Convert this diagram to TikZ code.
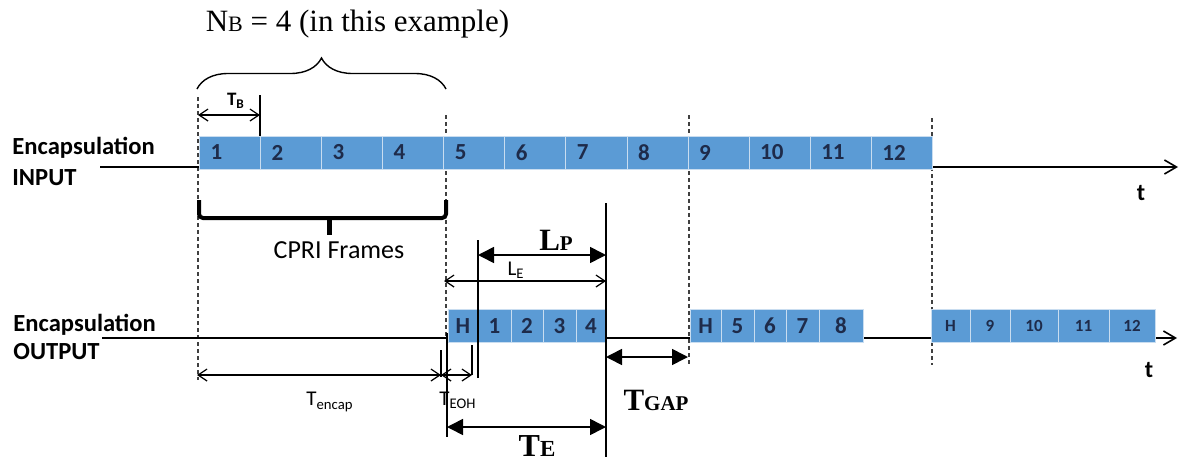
\documentclass[tikz,border=0pt]{standalone}
\usepackage{fontspec}
\setmainfont{Liberation Serif}
\setsansfont{Carlito}
\usetikzlibrary{arrows.meta,decorations.pathreplacing}

\definecolor{frameblue}{HTML}{5B9BD5}
\definecolor{framesep}{HTML}{C9DDF0}
\definecolor{framenum}{HTML}{1E2B4A}
\definecolor{guidegray}{HTML}{404040}

\newcommand{\fsz}[1]{\fontsize{#1}{#1}\selectfont}

\begin{document}
\begin{tikzpicture}[x=0.5pt,y=-0.5pt,
		axis/.style={line width=0.8pt,-{Straight Barb[length=6pt,width=7pt]}},
		guide/.style={guidegray,line width=0.8pt,dash pattern=on 2pt off 1.5pt},
		dim/.style={line width=0.6pt,{Straight Barb[length=4.5pt,width=6pt]}-{Straight Barb[length=4.5pt,width=6pt]}},
		bigdim/.style={line width=0.8pt,{Triangle[length=8pt,width=8pt]}-{Triangle[length=8pt,width=8pt]}},
		tick/.style={line width=0.7pt},
		frame/.style={fill=frameblue,draw=framesep,line width=0.5pt,minimum height=16.5pt,inner sep=0pt,font=\sffamily\bfseries\fsz{11.5},text=framenum},
		inframe/.style={frame,anchor=west,text width=19.54pt,inner xsep=5.5pt,align=left},
		outframe/.style={frame},
		rowlab/.style={anchor=base west,inner sep=0pt,font=\sffamily\bfseries\fsz{12.3}},
		sanslab/.style={inner sep=0pt,font=\sffamily\fsz{10.5}},
		seriflab/.style={anchor=base,inner sep=0pt,font=\bfseries\fsz{15.5}}]
		\useasboundingbox (0,0) rectangle (1179,461);

		% guides between the packet boundaries
		\coordinate (g1t) at (198,97);  \coordinate (g1b) at (198,380);
		\coordinate (g2t) at (446,115); \coordinate (g2b) at (446,336);
		\coordinate (g3t) at (689,115); \coordinate (g3b) at (689,365);
		\coordinate (g4t) at (932,118); \coordinate (g4b) at (932,365);
		\draw[guide] (g1t) -- (g1b);
		\draw[guide] (g2t) -- (g2b);
		\draw[guide] (g3t) -- (g3b);
		\draw[guide] (g4t) -- (g4b);

		% time axes
		\coordinate (ina) at (100,167);  \coordinate (inb) at (1178,167);
		\coordinate (outa) at (102,338); \coordinate (outb) at (1177,338);
		\draw[axis] (ina) -- (inb);
		\draw[axis] (outa) -- (outb);

		% input CPRI frames
		\foreach \i in {1,...,12}
			\node[inframe] (in\i) at ({199+(\i-1)*61.08},152.5) {\i};

		% output packets
		\foreach \x/\w/\t [count=\k] in {448/30/H,478/33/1,511/32/2,543/33/3,576/30/4,
				690/31/H,721/33/5,754/32/6,786/33/7,819/44/8}
			\node[outframe,minimum width={\w*0.5pt}] (out\k) at ({\x+\w/2},326) {\t};
		\foreach \x/\w/\t [count=\k] in {931/39/H,970/40/9,1010/48/10,1058/51/11,1109/46/12}
			\node[outframe,minimum width={\w*0.5pt},font=\sffamily\bfseries\fsz{8.5}] (last\k) at ({\x+\w/2},326) {\t};

		% row labels
		\node[rowlab] (inlab) at (12,154) {Encapsulation};
		\node[rowlab] (inlab2) at (12,185) {INPUT};
		\node[rowlab] (outlab) at (13,331) {Encapsulation};
		\node[rowlab] (outlab2) at (13,359) {OUTPUT};
		\node[sanslab,font=\sffamily\bfseries\fsz{12}] (tin) at (1141,193) {t};
		\node[sanslab,font=\sffamily\bfseries\fsz{12}] (tout) at (1149,370) {t};

		% N_B brace
		\node[anchor=base,inner sep=0pt,font=\fsz{15.5}] (nb) at (357.5,31) {N{\fsz{11}B} = 4 (in this example)};
		\coordinate (bra) at (197,89); \coordinate (brb) at (446,89);
		\draw[line width=0.7pt,decorate,decoration={brace,amplitude=15.5pt}] (bra) -- (brb);

		% T_B
		\coordinate (tba) at (198,115); \coordinate (tbb) at (260,115);
		\coordinate (tbt) at (260,95);  \coordinate (tbu) at (260,136);
		\draw[tick] (tbt) -- (tbu);
		\draw[dim] (tba) -- (tbb);
		\node[sanslab,font=\sffamily\bfseries\fsz{9.5}] (tb) at (236,101) {T\textsubscript{B}};

		% CPRI frames brace
		\coordinate (cba) at (199,200); \coordinate (cbb) at (446,200);
		\coordinate (cbm) at (329,218); \coordinate (cbs) at (329,235);
		\draw[line width=2pt,rounded corners=2pt] (cba) |- (cbm) -| (cbb);
		\draw[line width=2.5pt] (cbm) -- (cbs);
		\node[sanslab,font=\sffamily\fsz{13}] (cpri) at (339,250) {CPRI Frames};

		% packet lengths
		\coordinate (pv1) at (606,203); \coordinate (pv2) at (606,457);
		\draw[tick] (pv1) -- (pv2);
		\coordinate (lpa) at (478,255); \coordinate (lpb) at (606,255);
		\coordinate (lpt) at (478,240); \coordinate (lpu) at (478,378);
		\draw[tick] (lpt) -- (lpu);
		\draw[bigdim] (lpa) -- (lpb);
		\node[seriflab] (lp) at (556,250) {L{\fsz{10.5}P}};
		\coordinate (lea) at (444,281); \coordinate (leb) at (606,281);
		\draw[dim] (lea) -- (leb);
		\node[sanslab] (le) at (516,270) {L\textsubscript{E}};

		% encapsulation times
		\coordinate (tea) at (441,375); \coordinate (teb) at (472,375);
		\coordinate (tec) at (197,375);
		\coordinate (tet) at (441,350); \coordinate (teu) at (441,377);
		\coordinate (tev) at (472,345); \coordinate (tew) at (472,375);
		\draw[tick] (tet) -- (teu);
		\draw[tick] (tev) -- (tew);
		\draw[dim] (tec) -- (tea);
		\draw[dim] (tea) -- (teb);
		\node[sanslab] (tencap) at (330,402) {T\textsubscript{encap}};
		\node[sanslab] (teoh) at (458,400) {T\textsubscript{EOH}};

		% T_E and T_GAP
		\coordinate (ev1) at (447,333); \coordinate (ev2) at (447,437);
		\draw[tick] (ev1) -- (ev2);
		\coordinate (eta) at (447,427); \coordinate (etb) at (606,427);
		\draw[bigdim] (eta) -- (etb);
		\node[seriflab,font=\bfseries\fsz{16}] (te) at (537,456) {T{\fsz{11.5}E}};
		\coordinate (gpa) at (606,357); \coordinate (gpb) at (688,357);
		\draw[bigdim] (gpa) -- (gpb);
		\node[seriflab] (tgap) at (656,410) {T{\fsz{10.5}GAP}};
	\end{tikzpicture}
\end{document}
